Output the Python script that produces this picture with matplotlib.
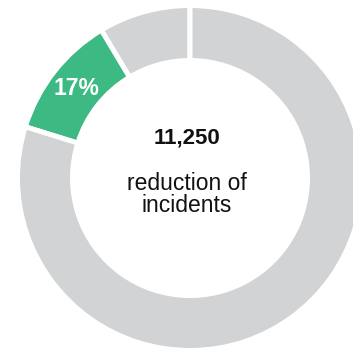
import matplotlib
matplotlib.use("Agg")
import matplotlib.pyplot as plt

plt.rcParams['font.family'] = ['Liberation Sans', 'DejaVu Sans']

# Segment shares read from the ring (counter-clockwise from 12 o'clock)
segments = ["other_top", "highlight", "other"]
shares = [8.6, 11.6, 79.8]
colors = ["#D2D3D5", "#3DB984", "#D2D3D5"]
labels = ["", "17%", ""]

headline = "11,250"
caption_lines = ["reduction of", "incidents"]

W, H = 353, 350
fig = plt.figure(figsize=(W / 100, H / 100), dpi=100)
ax = fig.add_axes([0, 0, 1, 1])

cx, cy = 190, 172
lw_px = 5
R = 170 + lw_px / 2
ring = 50 + lw_px

wedges, texts = ax.pie(
    shares, colors=colors, labels=labels, startangle=90, counterclock=True,
    radius=R, center=(cx, cy), labeldistance=(R - ring / 2) / R,
    wedgeprops=dict(width=ring, edgecolor="white", linewidth=lw_px * 72 / 100),
    textprops=dict(color="white", fontsize=16.5, fontweight="bold"),
)
for t in texts:
    t.set_ha("center")
    t.set_va("center")

ax.text(cx - 3, 350 - 143.3, headline, ha="center", va="baseline",
        fontsize=16, fontweight="bold", color="#111111")
ax.text(cx - 3, 350 - 190.5, caption_lines[0], ha="center", va="baseline",
        fontsize=16.5, color="#111111")
ax.text(cx - 3, 350 - 212.5, caption_lines[1], ha="center", va="baseline",
        fontsize=16.5, color="#111111")

ax.set_xlim(0, W)
ax.set_ylim(0, H)
ax.set_aspect("equal")
ax.axis("off")

fig.savefig("out.png", dpi=100)
